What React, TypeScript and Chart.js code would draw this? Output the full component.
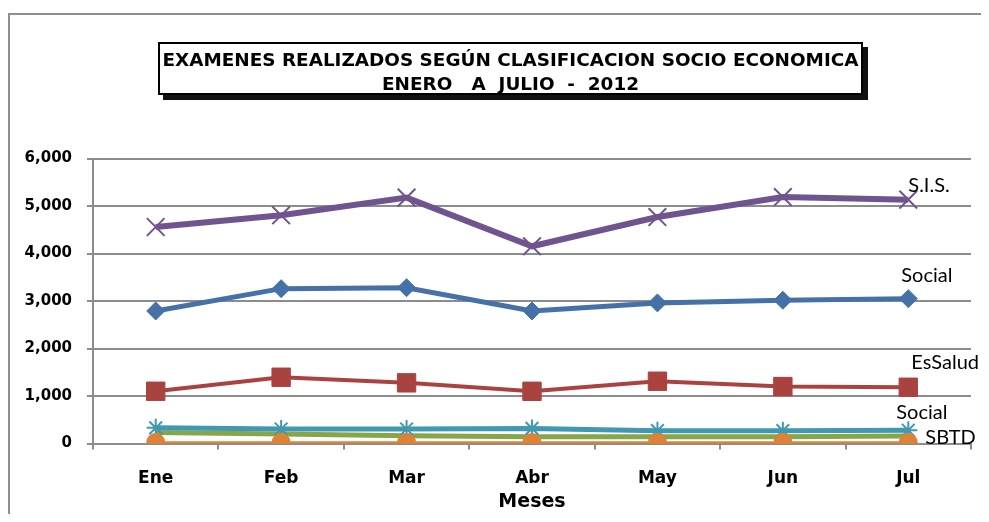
import React, { useEffect, useRef } from "react";
import { Chart, registerables } from "chart.js";

Chart.register(...registerables);

const months = ["Ene", "Feb", "Mar", "Abr", "May", "Jun", "Jul"];
const socialValues = [2790, 3260, 3280, 2790, 2960, 3015, 3050];
const esSaludValues = [1100, 1395, 1277, 1099, 1311, 1199, 1184];
const sbtdValues = [232, 198, 163, 142, 142, 142, 160];
const sisValues = [4558, 4804, 5177, 4152, 4768, 5189, 5134];
const social2Values = [330, 305, 305, 317, 270, 270, 280];
const otherValues = [20, 20, 20, 20, 20, 20, 20];
const yTicks = [0, 1000, 2000, 3000, 4000, 5000, 6000];

const titleLine1 = "EXAMENES REALIZADOS SEGÚN CLASIFICACION SOCIO ECONOMICA";
const titleLine2 = "ENERO   A  JULIO  -  2012";
const xTitle = "Meses";

// label offsets (style) relative to the last point
const endLabelStyle: Record<string, { dx: number; dy: number }> = {
  sis: { dx: 0, dy: -14 },
  social: { dx: -7, dy: -23 },
  essalud: { dx: 3, dy: -25 },
  social2: { dx: -12, dy: -18 },
  sbtd: { dx: 17, dy: 2 },
};

// target plot area inside the canvas (layout)
const AREA = { left: 85, right: 963, top: 145.5, bottom: 430.5 };

const GRID = "#8c8c8c";
const LABEL_FONT = "20px Lato";

const endLabelPlugin = {
  id: "endLabels",
  afterDatasetsDraw(chart: any) {
    const ctx = chart.ctx;
    ctx.save();
    ctx.font = LABEL_FONT;
    ctx.fillStyle = "#000";
    ctx.textAlign = "left";
    ctx.textBaseline = "middle";
    chart.data.datasets.forEach((ds: any, i: number) => {
      if (!ds.endKey) return;
      const meta = chart.getDatasetMeta(i);
      const pt = meta.data[meta.data.length - 1];
      const st = endLabelStyle[ds.endKey];
      ctx.fillText(ds.label, pt.x + st.dx, pt.y + st.dy);
    });
    ctx.restore();
  },
};

export default function App() {
  const ref = useRef<HTMLCanvasElement | null>(null);
  useEffect(() => {
    let chart: any = null;
    let cancelled = false;
    const build = () => {
      if (cancelled || !ref.current) return;
      chart = new Chart(ref.current, {
        type: "line",
        data: {
          labels: months,
          datasets: [
            { label: "Social", endKey: "social", data: socialValues, borderColor: "#4571a8", backgroundColor: "#4571a8", borderWidth: 5, pointStyle: "rectRot", pointRadius: 9, pointBorderWidth: 1, order: 6 },
            { label: "EsSalud", endKey: "essalud", data: esSaludValues, borderColor: "#aa4340", backgroundColor: "#aa4340", borderWidth: 4, pointStyle: "rect", pointRadius: 13, pointBorderWidth: 1, order: 5 },
            { label: "SBTD", endKey: "sbtd", data: sbtdValues, borderColor: "#87a64a", backgroundColor: "#87a64a", borderWidth: 5, pointRadius: 0, order: 4 },
            { label: "S.I.S.", endKey: "sis", data: sisValues, borderColor: "#70548f", backgroundColor: "#70548f", borderWidth: 6, pointStyle: "crossRot", pointRadius: 12.5, pointBorderWidth: 2, order: 3 },
            { label: "Social", endKey: "social2", data: social2Values, borderColor: "#4099b0", backgroundColor: "#4099b0", borderWidth: 5, pointStyle: "star", pointRadius: 9, pointBorderWidth: 2, order: 2 },
            { label: "Otros", data: otherValues, borderColor: "#df8236", backgroundColor: "#df8236", borderWidth: 2.5, pointStyle: "circle", pointRadius: 9.5, pointBorderWidth: 0, order: 1 },
          ] as any,
        },
        options: {
          animation: false,
          responsive: false,
          maintainAspectRatio: false,
          layout: { autoPadding: false, padding: { left: 0, right: 10, top: 145.5, bottom: 0.5 } },
          plugins: {
            legend: { display: false },
            tooltip: { enabled: false },
            title: { display: false },
          },
          scales: {
            x: {
              type: "category",
              offset: true,
              afterFit: (s: any) => {
                s.height = 70;
                s.paddingLeft = 0;
                s.paddingRight = 0;
              },
              grid: { display: true, offset: true, drawOnChartArea: false, drawTicks: true, tickLength: 6, color: GRID, lineWidth: 2 },
              border: { display: true, color: GRID, width: 2 },
              ticks: { color: "#000", padding: 19, font: { family: "DejaVu Sans", size: 17, weight: "bold" }, maxRotation: 0 },
              title: { display: true, text: xTitle, color: "#000", font: { family: "DejaVu Sans", size: 19, weight: "bold" }, padding: { top: 0, bottom: 0 } },
            },
            y: {
              min: 0,
              max: 6000,
              afterFit: (s: any) => {
                s.width = 85;
              },
              afterBuildTicks: (s: any) => {
                s.ticks = yTicks.map((v) => ({ value: v }));
              },
              grid: { color: GRID, lineWidth: 2, drawTicks: true, tickLength: 6 },
              border: { display: true, color: GRID, width: 2 },
              ticks: { color: "#000", padding: 15, font: { family: "DejaVu Sans", size: 15, weight: "bold" }, callback: (v: any) => Number(v).toLocaleString("en-US") },
            },
          },
        } as any,
        plugins: [endLabelPlugin],
      });
      // correct the layout so the plot area lands where the reference has it
      for (let k = 0; k < 3; k++) {
        const ca = chart.chartArea;
        const pad = chart.options.layout.padding;
        const dl = AREA.left - ca.left;
        const dr = ca.right - AREA.right;
        const dt = AREA.top - ca.top;
        const db = ca.bottom - AREA.bottom;
        if (Math.abs(dl) + Math.abs(dr) + Math.abs(dt) + Math.abs(db) < 0.01) break;
        pad.left += dl;
        pad.right += dr;
        pad.top += dt;
        pad.bottom += db;
        chart.update();
      }
    };
    const fonts: any = (document as any).fonts;
    if (fonts && fonts.load) {
      Promise.all([fonts.load('bold 17px "DejaVu Sans"'), fonts.load(LABEL_FONT)])
        .catch(() => null)
        .then(build);
    } else {
      build();
    }
    return () => {
      cancelled = true;
      if (chart) chart.destroy();
    };
  }, []);

  return (
    <div style={{ position: "relative", width: 973, height: 506 }}>
      <canvas ref={ref} width={973} height={501} style={{ position: "absolute", left: 0, top: 5, width: 973, height: 501 }} />
      <div style={{ position: "absolute", left: 0, top: 5, width: 981, height: 501, borderLeft: "2px solid #8e8e8e", borderTop: "2px solid #8e8e8e", boxSizing: "border-box", pointerEvents: "none" }} />
      <div style={{ position: "absolute", left: 150, top: 34, width: 705, height: 53, boxSizing: "border-box", border: "2px solid #000", background: "#fff", boxShadow: "5px 5px 0 #111", paddingTop: 3.5, textAlign: "center", fontFamily: "'DejaVu Sans'", fontWeight: "bold", fontSize: 18.4, lineHeight: "24px", whiteSpace: "pre", color: "#000" }}>
        <div>{titleLine1}</div>
        <div>{titleLine2}</div>
      </div>
    </div>
  );
}
